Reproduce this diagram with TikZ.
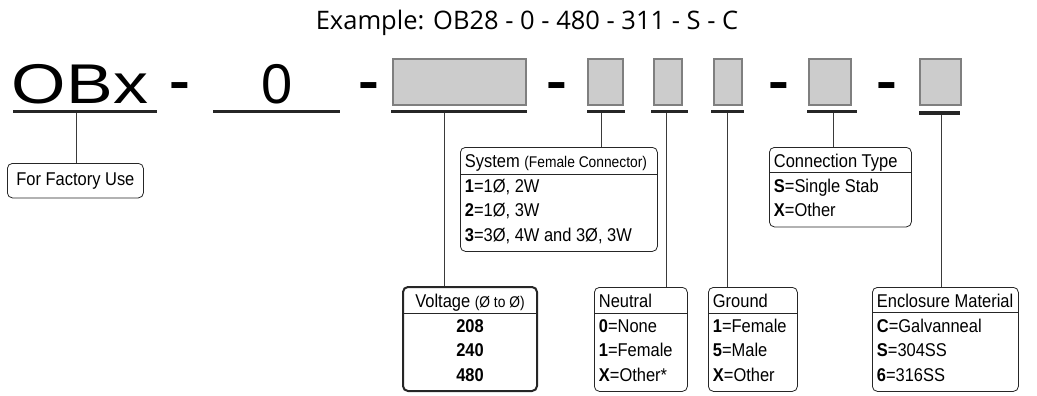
\documentclass[tikz,border=0pt]{standalone}
\usepackage{fontspec}
\setmainfont{Liberation Sans}
\newfontfamily\legfont[FakeStretch=0.89]{Liberation Sans}
\newfontfamily\codefont[FakeStretch=1.25]{Liberation Sans}
\newfontfamily\digitfont{Liberation Sans}
\newfontfamily\titlefont{Open Sans}
\usetikzlibrary{positioning}
\definecolor{slotfill}{HTML}{CCCCCC}
\definecolor{slotedge}{HTML}{7F7F7F}
\definecolor{linkgray}{HTML}{3A3A3A}
\newcommand\lstrut{\rule[-7pt]{0pt}{24.5pt}}
\newcommand\sm[1]{{\fontsize{15.5}{24.5}\selectfont #1}}
\begin{document}
\begin{tikzpicture}[x=1pt, y=-1pt,
    code/.style = {font=\codefont\fontsize{56}{56}\selectfont, inner sep=0pt, anchor=base},
    codedash/.style = {code, font=\codefont\bfseries\fontsize{50}{50}\selectfont},
    slot/.style = {draw=slotedge, fill=slotfill, line width=2pt,
        minimum height=46pt, inner sep=0pt},
    uline/.style = {fill=black!85, inner sep=0pt, minimum height=3pt},
    link/.style = {draw=linkgray, line width=0.9pt},
    legend/.style = {draw=black!85, line width=0.8pt, rounded corners=5pt,
        anchor=north west, align=flush left, inner xsep=4.5pt, inner ysep=3pt,
        text width=#1, font=\legfont\fontsize{18.5}{24.5}\selectfont},
    head/.style = {path picture={\draw[line width=0.8pt]
        ([yshift=-#1]path picture bounding box.north west) --
        ([yshift=-#1]path picture bounding box.north east);}}]

    \useasboundingbox (0,0) rectangle (1037,396);

    \node[font=\titlefont\fontsize{25.5}{25.5}\selectfont, anchor=base] (title)
        at (527,30) {Example: OB28 - 0 - 480 - 311 - S - C};

    % part number
    \node[code] (obx) at (80,103) {OBx};
    \node[codedash] (d1) at (180,99) {-};
    \node[code, font=\digitfont\fontsize{56}{56}\selectfont] (zero) at (277,103) {0};
    \node[codedash] (d2) at (369,99) {-};
    \node[slot, minimum width=133pt] (s1) at (459.5,82) {};
    \node[codedash] (d3) at (557,99) {-};
    \node[slot, minimum width=35pt] (s2) at (605.5,82) {};
    \node[slot, minimum width=28pt] (s3) at (668,82) {};
    \node[slot, minimum width=28pt] (s4) at (728,82) {};
    \node[codedash] (d4) at (779,99) {-};
    \node[slot, minimum width=42pt] (s5) at (830,82) {};
    \node[codedash] (d5) at (887,99) {-};
    \node[slot, minimum width=41pt] (s6) at (940.5,82) {};

    % underlines
    \node[uline, minimum width=144pt] (u0) at (85,111.5) {};
    \node[uline, minimum width=127pt] (uzero) at (276.5,111.5) {};
    \node[uline, minimum width=136pt] (u1) at (459,111.5) {};
    \node[uline, minimum width=38pt] (u2) at (606,111.5) {};
    \node[uline, minimum width=37pt] (u3) at (669.5,111.5) {};
    \node[uline, minimum width=33pt] (u4) at (727.5,111.5) {};
    \node[uline, minimum width=50pt] (u5) at (832,111.5) {};
    \node[uline, minimum width=41pt] (u6) at (939,113) {};

    % legends
    \node[legend=127pt, align=flush center, inner ysep=5pt] (factory) at (7,163)
        {\lstrut For Factory Use};
    \node[legend=188pt, head=27pt] (system) at (460,147)
        {\lstrut System \sm{(Female Connector)}\\
         \lstrut\textbf{1}=1Ø, 2W\\
         \lstrut\textbf{2}=1Ø, 3W\\
         \lstrut\textbf{3}=3Ø, 4W and 3Ø, 3W};
    \node[legend=125pt, head=26pt, line width=2pt, align=flush center] (voltage) at (402,286)
        {\lstrut Voltage \sm{(Ø to Ø)}\\
         \lstrut\textbf{208}\\
         \lstrut\textbf{240}\\
         \lstrut\textbf{480}};
    \node[legend=84pt, head=26pt] (neutral) at (594,287)
        {\lstrut Neutral\\
         \lstrut\textbf{0}=None\\
         \lstrut\textbf{1}=Female\\
         \lstrut\textbf{X}=Other*};
    \node[legend=80pt, head=26pt] (ground) at (708,287)
        {\lstrut Ground\\
         \lstrut\textbf{1}=Female\\
         \lstrut\textbf{5}=Male\\
         \lstrut\textbf{X}=Other};
    \node[legend=133pt, head=25pt] (conn) at (769,147)
        {\lstrut Connection Type\\
         \lstrut\textbf{S}=Single Stab\\
         \lstrut\textbf{X}=Other};
    \node[legend=137pt, head=25pt] (encl) at (872,287)
        {\lstrut Enclosure Material\\
         \lstrut\textbf{C}=Galvanneal\\
         \lstrut\textbf{S}=304SS\\
         \lstrut\textbf{6}=316SS};

    % leaders
    \draw[link] ([xshift=-9pt]u0.south) -- ([xshift=-9pt]u0.south |- factory.north);
    \draw[link] ([xshift=-15pt]u1.south) -- ([xshift=-15pt]u1.south |- voltage.north);
    \draw[link] ([xshift=-5pt]u2.south) -- ([xshift=-5pt]u2.south |- system.north);
    \draw[link] ([xshift=-3.5pt]u3.south) -- ([xshift=-3.5pt]u3.south |- neutral.north);
    \draw[link] (u4.south) -- (u4.south |- ground.north);
    \draw[link] ([xshift=1pt]u5.south) -- ([xshift=1pt]u5.south |- conn.north);
    \draw[link] ([xshift=2pt]u6.south) -- ([xshift=2pt]u6.south |- encl.north);
\end{tikzpicture}
\end{document}
